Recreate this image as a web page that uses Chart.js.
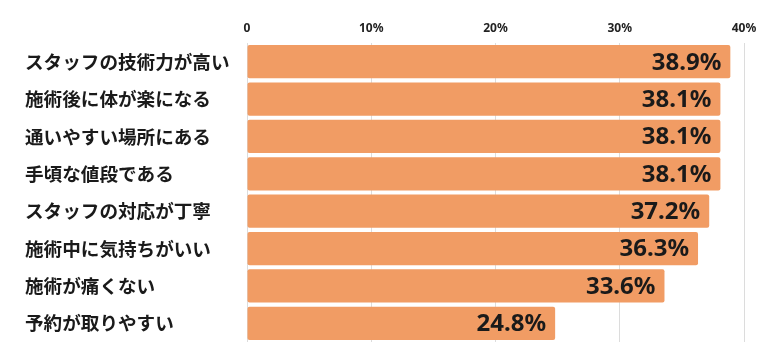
<!DOCTYPE html>
<html>
<head>
<meta charset="utf-8">
<script src="https://cdn.jsdelivr.net/npm/chart.js@4"></script>
<style>
html,body{margin:0;padding:0;background:#fff;}
#wrap{width:765px;height:359px;position:relative;}
</style>
</head>
<body>
<div id="wrap"><canvas id="c" width="765" height="359"></canvas></div>
<script>
const categories = [
  "スタッフの技術力が高い",
  "施術後に体が楽になる",
  "通いやすい場所にある",
  "手頃な値段である",
  "スタッフの対応が丁寧",
  "施術中に気持ちがいい",
  "施術が痛くない",
  "予約が取りやすい"
];
const values = [38.9, 38.1, 38.1, 38.1, 37.2, 36.3, 33.6, 24.8];
const tickValues = [0, 10, 20, 30, 40];
const tickLabels = ["0", "10%", "20%", "30%", "40%"];

const valueLabels = {
  id: 'valueLabels',
  afterDatasetsDraw(chart) {
    const ctx = chart.ctx;
    const meta = chart.getDatasetMeta(0);
    ctx.save();
    ctx.font = 'bold 24px "Noto Sans", sans-serif';
    ctx.fillStyle = '#1a1a1a';
    ctx.textAlign = 'right';
    ctx.textBaseline = 'middle';
    meta.data.forEach((bar, i) => {
      ctx.fillText(values[i].toFixed(1) + '%', bar.x - 9, bar.y + 1);
    });
    ctx.restore();
  }
};

new Chart(document.getElementById('c'), {
  type: 'bar',
  data: {
    labels: categories,
    datasets: [{
      data: values,
      backgroundColor: '#F19C64',
      borderRadius: 2,
      borderSkipped: false,
      barPercentage: 0.89,
      categoryPercentage: 1.0
    }]
  },
  options: {
    indexAxis: 'y',
    responsive: false,
    animation: false,
    events: [],
    layout: { padding: { left: 25, right: 21, top: 0, bottom: 17 } },
    plugins: { legend: { display: false }, tooltip: { enabled: false } },
    scales: {
      x: {
        position: 'top',
        min: 0,
        max: 40,
        afterBuildTicks(scale) { scale.ticks = tickValues.map(v => ({ value: v })); },
        afterFit(scale) { scale.height = 43; },
        ticks: {
          padding: 7,
          color: '#222',
          font: { family: '"Noto Sans", sans-serif', size: 12, weight: 'bold' },
          callback(v) { return tickLabels[tickValues.indexOf(v)]; }
        },
        grid: { color: '#dcdcdc', drawTicks: false, lineWidth: 1 },
        border: { display: false }
      },
      y: {
        afterFit(scale) { scale.width = 222; },
        ticks: {
          crossAlign: 'far',
          color: '#1a1a1a',
          font: { family: '"Noto Sans CJK JP", sans-serif', size: 18.6, weight: 'bold' }
        },
        grid: { display: false },
        border: { display: false }
      }
    }
  },
  plugins: [valueLabels]
});
</script>
</body>
</html>
